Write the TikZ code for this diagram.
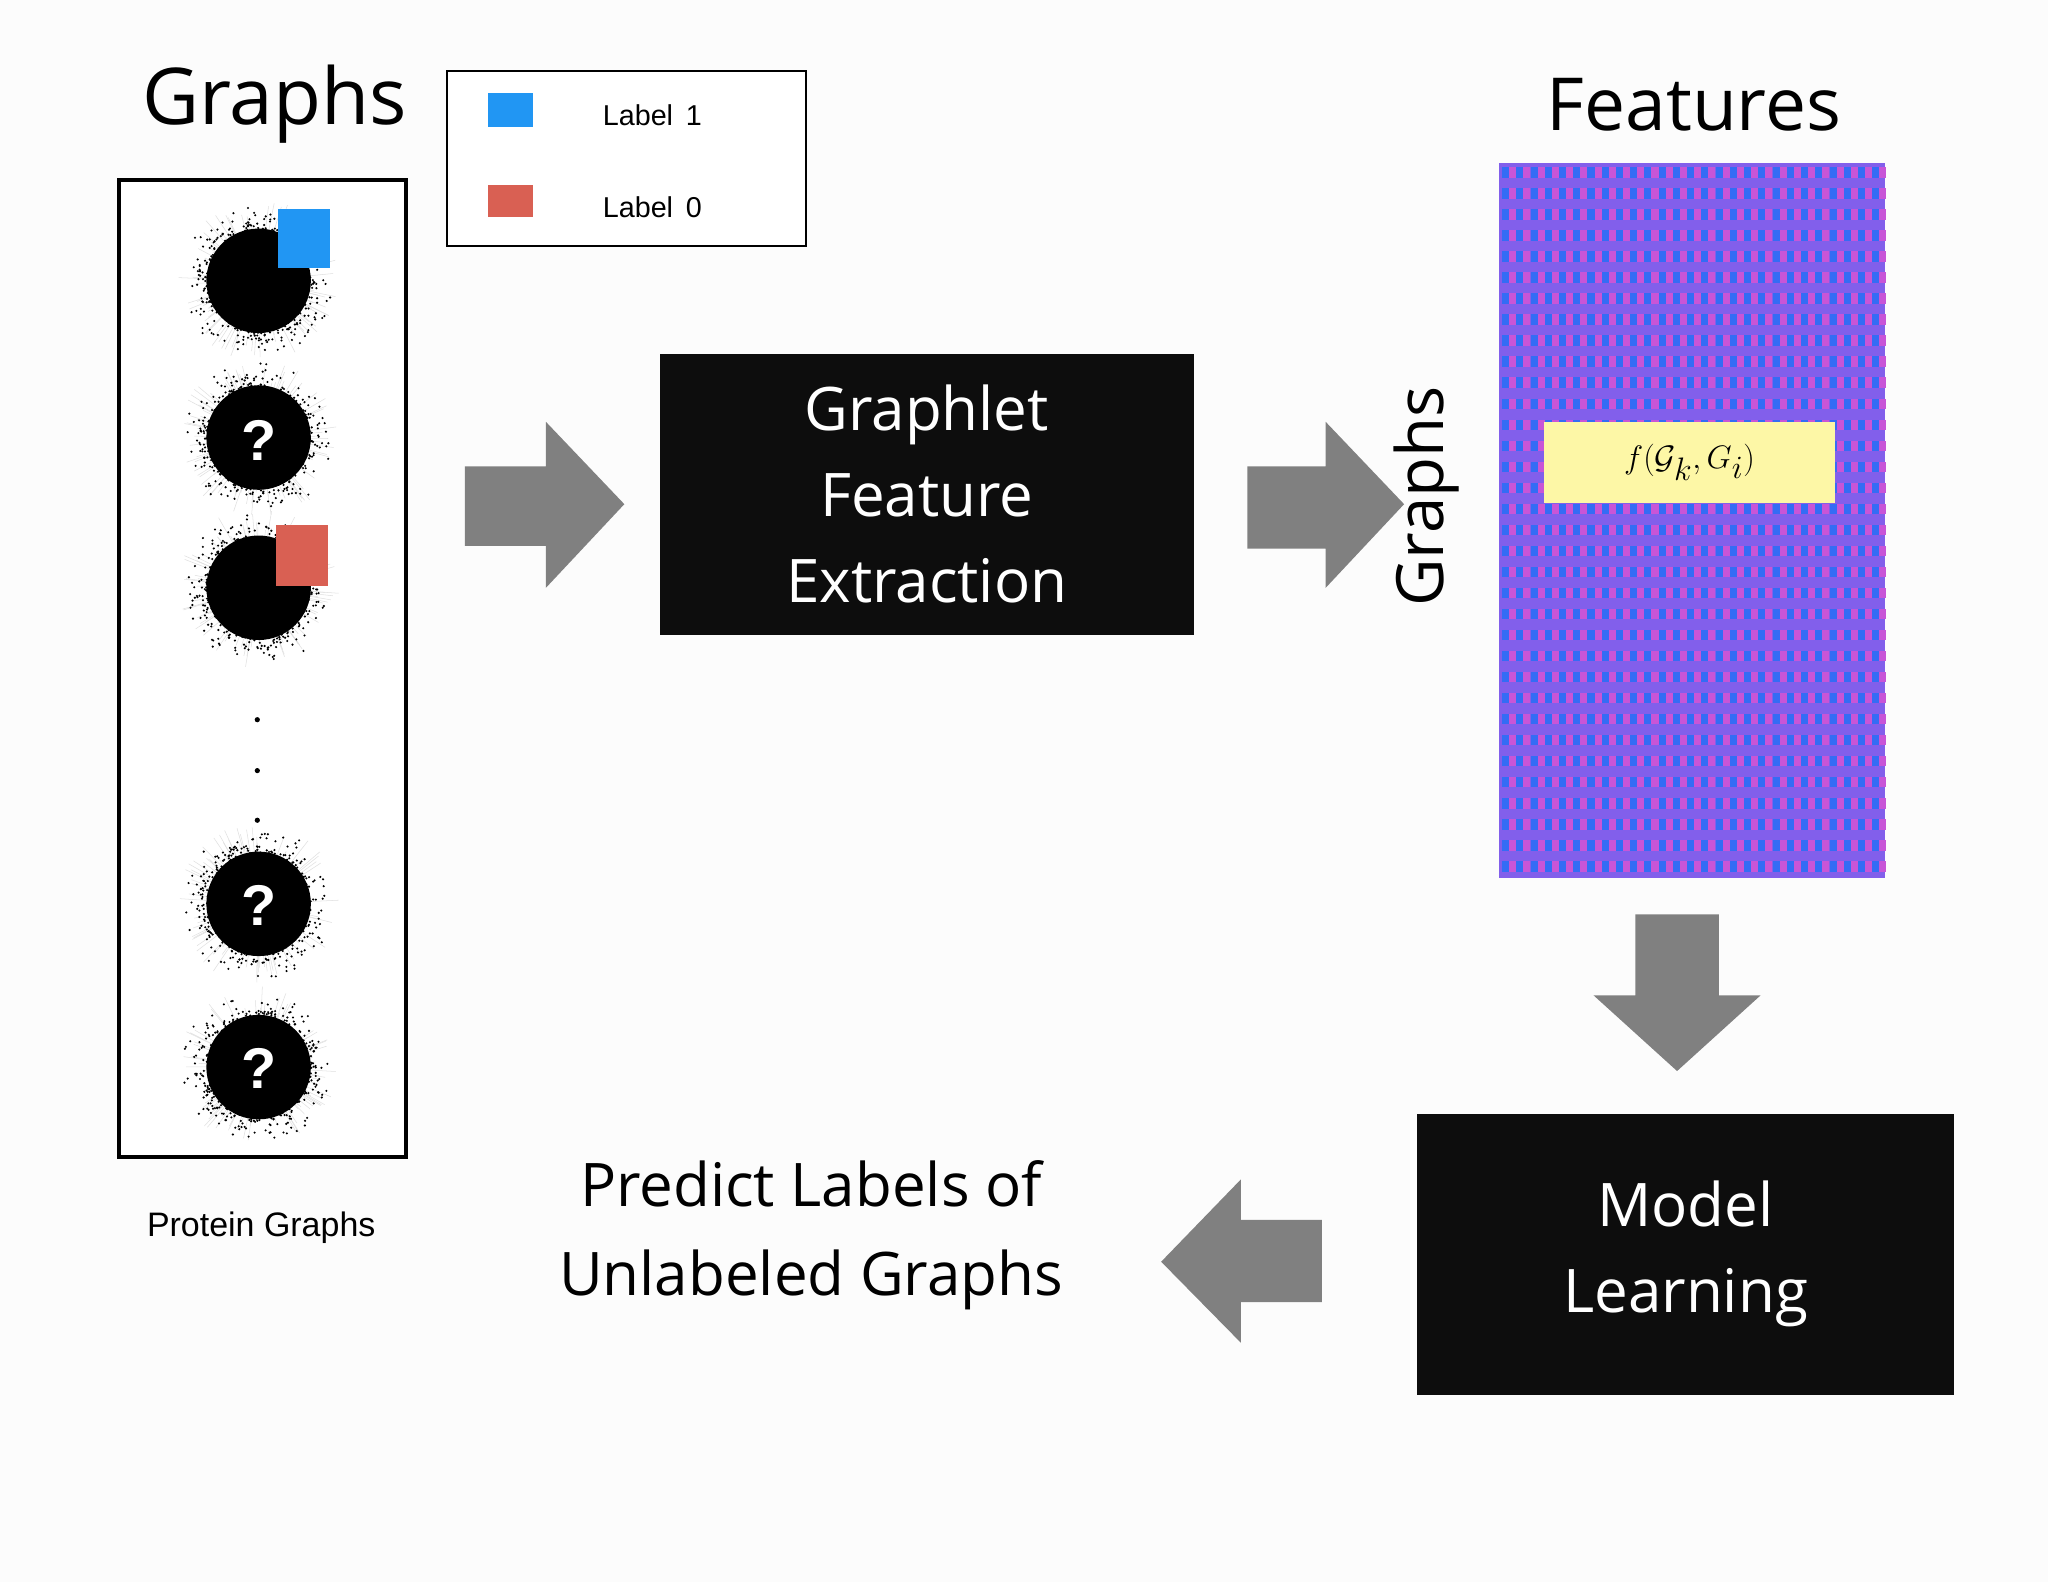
\documentclass[tikz,border=0pt]{standalone}
\usepackage{fontspec}
\setmainfont{Open Sans}
\newfontfamily\hv{Liberation Sans}
\begin{document}
\begin{tikzpicture}[x=1pt,y=-1pt,
  blk/.style={fill=black!95,text=white,align=center,font=\fontsize{46}{66}\selectfont,inner sep=0},
  garrow/.style={fill=black!50,draw=none},
  qm/.style={text=white,font=\hv\bfseries\fontsize{44}{44}\selectfont}]
\useasboundingbox[fill=black!1] (0,0) rectangle (1568,1211);
% titles
\node[font=\fontsize{60}{60}\selectfont] (tg) at (210,80) {Graphs};
\node[font=\fontsize{56}{56}\selectfont] (tf) at (1297,80) {Features};
% graphs box
\draw[line width=3,fill=white] (91,138) rectangle (311,886);
% legend
\draw[line width=1.5,fill=white] (342,54) rectangle (617,188);
\fill[fill={rgb,255:red,33;green,150;blue,243}] (374,71) rectangle (408,97);
\fill[fill={rgb,255:red,217;green,96;blue,83}] (374,142) rectangle (408,166);
\node[font=\hv\fontsize{22}{22}\selectfont,anchor=west] (l1) at (458,88) {Label\, 1};
\node[font=\hv\fontsize{22}{22}\selectfont,anchor=west] (l0) at (458,159) {Label\, 0};
% blobs
\pgfmathsetseed{7}
\foreach \cy in {215,335,450,692,817}{
  \foreach \k in {1,...,90}{
    \pgfmathsetmacro{\a}{rnd*360}\pgfmathsetmacro{\r}{40+rnd*22}
    \draw[black!12,line width=0.4] (198,\cy) -- ++(\a:\r);}
  \fill[black] (198,\cy) circle (40);
  \foreach \k in {1,...,420}{
    \pgfmathsetmacro{\a}{rnd*360}\pgfmathsetmacro{\r}{36+(rnd*rnd)*24}
    \fill[black] (198,\cy) ++(\a:\r) circle (0.9);}
}
\fill[fill={rgb,255:red,33;green,150;blue,243}] (213,160) rectangle (253,205);
\fill[fill={rgb,255:red,217;green,96;blue,83}] (211,402) rectangle (251,449);
\node[qm] (q1) at (198,337) {?};
\node[qm] (q2) at (198,693) {?};
\node[qm] (q3) at (198,818) {?};
\foreach \y in {551,590,628}{\fill[black] (197,\y) circle (2);}
\node[font=\hv\fontsize{26}{26}\selectfont] (pg) at (200,940) {Protein Graphs};
% arrows
\fill[garrow] (356,357) -- (418,357) -- (418,323) -- (478,386) -- (418,450) -- (418,418) -- (356,418) -- cycle;
\fill[garrow] (955,357) -- (1015,357) -- (1015,323) -- (1075,386) -- (1015,450) -- (1015,420) -- (955,420) -- cycle;
\fill[garrow] (1252,700) -- (1316,700) -- (1316,762) -- (1348,762) -- (1284,820) -- (1220,762) -- (1252,762) -- cycle;
\fill[garrow] (1012,934) -- (950,934) -- (950,903) -- (889,966) -- (950,1028) -- (950,997) -- (1012,997) -- cycle;
% boxes
\fill[black!95] (505,271) rectangle (914,486);
\node[blk] (gfe) at (709.5,378) {Graphlet\\Feature\\Extraction};
\fill[black!95] (1085,853) rectangle (1496,1068);
\node[blk] (ml) at (1290.5,960) {Model\\Learning};
\node[align=center,font=\fontsize{46}{68}\selectfont] (pred) at (621,946) {Predict Labels of\\Unlabeled Graphs};
\node[rotate=90,font=\fontsize{50}{50}\selectfont] (gr) at (1092,380) {Graphs};
% feature matrix
\fill[fill={rgb,255:red,130;green,95;blue,235}] (1148,125) rectangle (1443,672);
\foreach \r in {0,...,33}{
  \foreach \c in {0,...,26}{
    \fill[fill={rgb,255:red,52;green,108;blue,245}] (1150+\c*10.9,128+\r*16.1) rectangle ++(5.4,8);
    \fill[fill={rgb,255:red,200;green,85;blue,215}] (1155.4+\c*10.9,128+\r*16.1) rectangle ++(5.4,8);
  }}
\node[fill={rgb,255:red,253;green,247;blue,166},minimum width=223,minimum height=62,inner sep=0,font=\fontsize{36}{36}\selectfont] (fx) at (1293.5,354) {$f(\mathcal{G}_k,G_i)$};
\end{tikzpicture}
\end{document}
